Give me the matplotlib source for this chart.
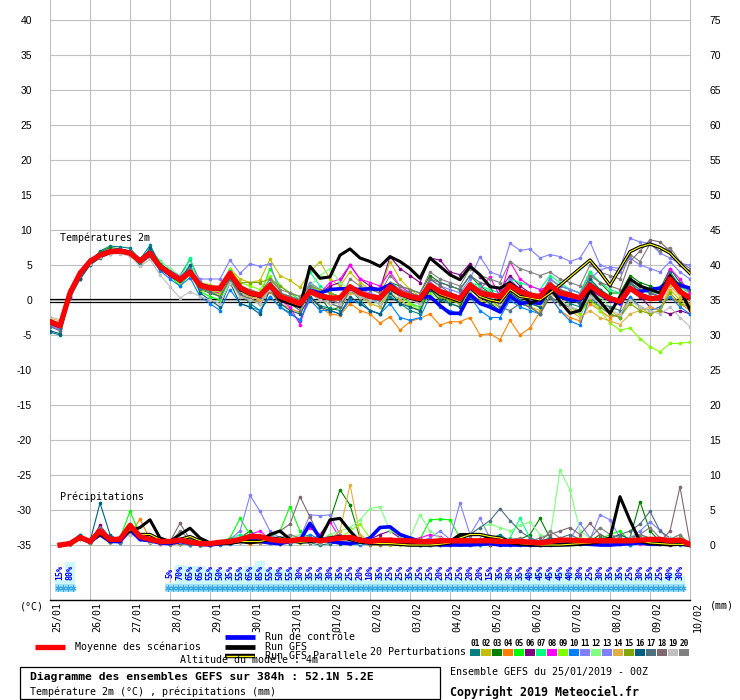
import numpy as np
import matplotlib
matplotlib.use("Agg")
import matplotlib.pyplot as plt
from matplotlib.patches import Rectangle
from matplotlib.lines import Line2D

plt.rcParams['axes.unicode_minus'] = False
MONO = 'DejaVu Sans Mono'

# ---------------- data ----------------
hours = np.arange(0, 385, 6)          # 65 steps of 6h (384h)
rain_hours = hours[1:]                # 6h precipitation totals
days = ['25/01', '26/01', '27/01', '28/01', '29/01', '30/01', '31/01', '01/02', '02/02',
        '03/02', '04/02', '05/02', '06/02', '07/02', '08/02', '09/02', '10/02']

# temperature 2m (°C)
t_mean = [-3.1, -3.7, 1.0, 3.8, 5.5, 6.4, 6.9, 7.0, 6.7, 5.6,
          6.7, 4.8, 3.8, 2.9, 4.0, 2.1, 1.7, 1.7, 3.8, 1.8,
          1.0, 0.7, 2.1, 0.5, 0.0, -0.5, 1.2, 0.6, 0.3, 0.3,
          1.9, 1.0, 0.5, 0.3, 1.9, 1.0, 0.5, 0.2, 2.1, 1.2,
          0.7, 0.2, 2.1, 1.0, 0.7, 0.5, 2.1, 1.2, 0.7, 0.5,
          2.1, 1.0, 0.7, 0.3, 2.1, 1.0, 0.2, -0.2, 1.7, 0.7,
          0.2, 0.3, 3.0, 1.2, 0.3]
t_ctrl = [-3.0, -3.6, 1.1, 3.9, 5.6, 6.5, 7.0, 7.1, 6.8, 5.7,
          6.8, 4.9, 3.9, 3.0, 4.1, 2.2, 1.8, 1.6, 3.7, 1.6,
          0.9, 0.6, 2.0, 0.4, -0.2, -0.6, 1.4, 1.0, 1.5, 1.6,
          1.6, 1.5, 1.6, 1.5, 2.2, 1.0, 0.3, 0.3, 0.5, -0.8,
          -1.9, -1.9, 0.8, -0.5, -1.0, -1.7, 0.6, -0.5, -0.3, -0.5,
          1.5, 0.5, 0.0, 0.0, 1.8, 0.8, 0.0, -0.5, 1.5, 1.2,
          1.5, 1.7, 2.9, 2.1, 1.7]
t_gfs = [-3.3, -3.8, 0.9, 3.7, 5.4, 6.3, 6.8, 6.9, 6.6, 5.5,
         6.5, 4.6, 3.6, 2.7, 3.9, 2.0, 1.6, 1.5, 3.6, 1.5,
         0.8, 0.5, 2.0, 0.0, -0.5, -1.0, 4.8, 3.1, 3.3, 6.4,
         7.3, 6.0, 5.5, 4.8, 6.2, 5.5, 4.5, 3.1, 6.0, 4.8,
         3.6, 2.9, 4.8, 3.6, 1.9, 1.7, 2.5, 1.4, -0.5, 0.2,
         1.7, -0.2, -1.9, -1.5, 1.4, -0.2, -1.9, 0.5, 3.0, 2.0,
         1.5, 1.0, 3.5, 1.5, -1.4]
t_para = [-3.2, -3.7, 1.0, 3.8, 5.5, 6.4, 6.9, 7.0, 6.7, 5.6,
          6.6, 4.7, 3.7, 2.8, 4.0, 2.1, 1.7, 1.6, 3.7, 1.6,
          0.9, 0.6, 2.1, 0.3, -0.3, -0.8, 1.3, 0.6, 0.2, 0.3,
          1.8, 1.0, 0.4, 0.3, 1.6, 0.8, 0.3, -0.1, 1.8, 0.8,
          0.3, -0.2, 1.8, 0.5, 0.0, -0.3, 1.5, 0.5, 0.3, 0.0,
          1.0, 2.1, 3.3, 4.5, 5.7, 4.0, 2.1, 4.5, 6.9, 7.6,
          8.0, 7.5, 6.7, 5.2, 3.8]

t_p01 = [-4.6, -5.0, 0.5, 3.2, 5.2, 7.0, 7.7, 7.6, 7.4, 5.8,
         7.8, 5.2, 4.2, 3.5, 5.8, 2.6, 1.8, 1.0, 3.5, 0.8,
         -0.5, -1.5, 0.5, -1.0, -1.8, -3.0, 0.5, -0.8, -1.2, -1.5,
         1.5, 0.0, -1.5, -2.0, 0.5, -0.5, -1.5, -2.0, 2.0, 0.5,
         -0.5, -1.0, 1.5, 0.5, -0.5, -1.5, 0.5, -0.5, -1.0, -2.0,
         1.5, 0.5, -0.5, -1.0, 2.5, 1.5, 0.5, 0.0, 3.0, 2.0,
         1.0, 0.5, 4.0, 2.0, 1.0]
t_p02 = [-3.2, -3.6, 1.6, 4.2, 5.8, 6.6, 7.1, 7.2, 6.8, 5.4,
         6.4, 5.0, 4.0, 3.2, 4.6, 2.5, 2.2, 1.8, 4.5, 3.0,
         2.5, 2.8, 5.8, 3.5, 2.8, 1.8, 4.0, 5.5, 3.0, 2.0,
         4.0, 2.5, 1.5, 1.0, 5.5, 3.0, 1.5, 0.5, 1.5, 0.5,
         0.0, -0.5, 1.0, 0.0, -0.5, -1.0, 1.5, 0.0, -1.0, -1.5,
         0.5, -0.5, -1.5, -2.0, 0.5, -0.5, -1.5, -2.5, 0.0, -1.0,
         -2.0, -1.5, 1.5, 0.0, -1.0]
t_p03 = [-3.5, -4.0, 1.2, 4.0, 5.6, 6.8, 7.5, 7.3, 7.0, 5.2,
         6.5, 4.5, 3.5, 2.5, 4.2, 1.5, 1.0, 0.5, 3.0, 0.5,
         0.0, -0.5, 1.5, 0.0, -0.5, -1.0, 1.0, 0.5, -1.5, -1.0,
         1.5, 0.5, 0.0, 0.0, 2.5, 2.0, 1.5, 1.0, 3.5, 2.5,
         2.0, 1.5, 3.5, 2.0, 1.0, 0.5, 2.5, 1.5, 1.0, 0.5,
         3.0, 2.0, 1.5, 1.0, 4.0, 2.5, 1.0, 1.0, 3.5, 2.5,
         2.0, 1.5, 4.5, 2.5, 1.5]
t_p04 = [-2.8, -3.3, 0.8, 3.0, 5.0, 6.2, 6.8, 6.9, 6.5, 5.0,
         6.2, 4.6, 3.6, 2.4, 3.5, 1.6, 1.2, 0.8, 3.0, 0.6,
         0.2, -0.3, 1.2, -0.5, -1.2, -1.8, 0.2, -1.0, -2.0, -2.2,
         -0.5, -1.5, -2.0, -3.3, -2.4, -4.3, -3.1, -2.6, -2.0, -3.6,
         -3.1, -3.1, -2.5, -5.0, -4.8, -5.7, -2.9, -5.0, -4.0, -1.7,
         0.5, -1.5, -2.5, -3.0, -0.5, -1.5, -2.5, -2.0, 0.5, -1.0,
         -1.5, -1.0, 0.5, -0.5, -1.5]
t_p05 = [-3.3, -3.8, 1.0, 3.6, 5.4, 6.5, 7.0, 6.9, 6.6, 5.5,
         6.8, 5.0, 3.5, 2.0, 3.8, 1.2, 0.5, 0.0, 3.0, 1.0,
         0.5, 0.5, 4.5, 2.0, 1.0, 0.0, 2.5, 1.0, 0.5, 0.0,
         2.0, 1.0, 0.0, -0.5, 1.5, 0.5, -0.5, -1.0, 2.0, 1.0,
         0.5, 0.0, 2.5, 1.5, 1.0, 0.5, 2.0, 1.0, 0.5, 0.0,
         2.5, 1.5, 1.0, 0.5, 3.0, 1.5, 0.5, 0.0, 2.5, 1.5,
         1.0, 1.0, 3.5, 2.0, 1.0]
t_p06 = [-3.0, -3.4, 1.4, 4.0, 5.6, 6.5, 7.0, 7.1, 6.8, 5.6,
         6.6, 4.6, 3.6, 2.8, 4.0, 2.0, 1.5, 1.0, 3.8, 1.5,
         0.8, 0.5, 2.0, 0.5, 0.0, -0.5, 1.5, 1.0, 2.0, 2.5,
         5.0, 3.0, 2.0, 1.5, 6.2, 4.5, 3.5, 2.5, 6.0, 5.7,
         4.0, 3.6, 5.2, 3.3, 2.0, 1.5, 3.5, 2.0, 1.0, 0.5,
         2.5, 1.0, 0.0, -0.5, 2.0, 0.5, 0.0, -0.5, 2.0, 0.5,
         -1.0, -1.5, -2.0, -1.5, -2.0]
t_p07 = [-3.4, -4.0, 0.8, 3.4, 5.2, 6.4, 7.0, 7.2, 6.9, 5.8,
         7.2, 5.6, 4.4, 3.0, 6.0, 2.0, 1.5, 1.0, 4.5, 1.5,
         1.0, 0.5, 2.5, 1.0, 0.5, 0.0, 4.0, 2.0, 1.0, 0.5,
         2.0, 1.0, 0.0, -0.5, 1.0, 0.0, -1.0, -1.5, 1.5, 0.5,
         0.0, -0.5, 2.5, 2.0, 1.5, 1.0, 3.0, 2.5, 2.0, 1.5,
         3.5, 2.5, 1.5, 1.0, 4.0, 2.5, 1.5, 1.0, 3.0, 2.0,
         1.5, 1.0, 3.5, 2.0, 1.0]
t_p08 = [-3.6, -4.2, 1.2, 3.8, 5.6, 6.5, 7.0, 7.0, 6.7, 5.7,
         6.6, 4.4, 3.4, 2.6, 4.2, 1.8, 1.2, 1.0, 3.5, 1.0,
         0.5, 0.0, 2.0, 0.0, -1.0, -3.5, 1.0, 1.0, 2.5, 3.0,
         5.0, 3.0, 2.5, 2.0, 4.0, 2.0, 1.0, 0.5, 2.5, 1.5,
         1.0, 0.5, 2.0, 1.5, 3.3, 0.5, 5.5, 3.0, 2.0, 1.5,
         2.0, 1.0, 0.5, 0.0, 1.5, 0.5, 0.0, -0.5, 3.0, 2.0,
         1.0, 0.5, 4.5, 3.0, 1.0]
t_p09 = [-3.2, -3.8, 1.0, 3.6, 5.4, 6.3, 6.8, 6.9, 6.6, 5.5,
         6.5, 4.8, 3.8, 2.2, 4.5, 1.5, 1.2, 0.8, 4.5, 2.5,
         2.0, 1.5, 3.5, 1.0, 0.5, 0.0, 2.0, 0.5, 0.0, -0.5,
         1.5, 0.5, -0.5, -1.0, 1.5, 0.5, -0.5, -1.5, 1.0, 0.0,
         -0.5, -1.0, 1.5, 0.5, 0.0, -0.5, 2.0, 1.0, 0.5, -0.5,
         1.0, 0.0, -1.0, -2.0, 0.0, -1.5, -3.3, -4.3, -4.0, -5.5,
         -6.7, -7.4, -6.2, -6.2, -6.0]
t_p10 = [-3.4, -4.0, 0.6, 3.0, 5.0, 6.2, 6.8, 6.8, 6.5, 5.2,
         6.2, 4.2, 3.0, 2.0, 3.2, 0.5, -0.5, -1.5, 1.5, -0.5,
         -1.0, -1.5, 0.5, -1.0, -2.0, -2.8, 0.0, -1.5, -1.5, -2.0,
         0.0, -0.5, -1.5, -2.0, -0.5, -2.5, -2.9, -2.5, 0.5, -1.0,
         -1.5, -2.0, 0.5, -1.5, -2.5, -2.5, 0.0, -1.0, -1.5, -2.0,
         0.5, -1.5, -3.0, -3.6, 0.5, -1.0, -2.0, -2.5, 0.5, -1.0,
         -1.5, -1.0, 0.5, -1.0, -2.0]
t_p11 = [-3.0, -3.5, 1.2, 3.8, 5.6, 6.6, 7.0, 7.0, 6.8, 5.8,
         6.8, 5.2, 4.0, 3.2, 4.8, 3.0, 3.0, 3.0, 5.7, 3.8,
         5.2, 4.8, 5.2, 1.0, 0.5, 0.0, 2.5, 1.5, 1.0, 0.5,
         2.0, 1.5, 1.0, 0.5, 2.5, 1.5, 1.0, 0.5, 3.0, 2.0,
         1.5, 1.0, 3.0, 6.2, 4.0, 3.5, 8.1, 7.1, 7.3, 6.0,
         6.5, 6.2, 5.5, 6.0, 8.3, 5.0, 4.5, 4.0, 6.0, 5.0,
         4.5, 4.0, 5.5, 4.0, 3.0]
t_p12 = [-3.3, -3.9, 1.1, 3.7, 5.4, 6.3, 6.9, 7.0, 6.6, 5.8,
         6.9, 5.4, 4.5, 3.5, 5.0, 2.5, 2.0, 1.5, 4.0, 1.0,
         0.5, 0.0, 3.0, 1.0, 0.0, -1.0, 2.0, 3.5, 4.5, 2.5,
         1.5, 0.5, 0.0, -0.5, 2.0, 1.0, 0.0, -0.5, 2.5, 1.5,
         1.0, 0.5, 2.5, 1.5, 1.0, 0.5, 2.0, 1.0, 0.5, 0.0,
         2.5, 1.5, 0.5, 0.0, 2.0, 0.5, -1.0, -1.5, 2.0, 1.0,
         0.5, 0.5, 2.5, 1.0, 0.5]
t_p13 = [-3.6, -4.2, 0.9, 3.5, 5.3, 6.3, 6.9, 7.0, 6.6, 5.4,
         6.4, 4.8, 4.2, 3.4, 4.6, 2.2, 1.8, 1.5, 3.6, 1.5,
         1.0, 0.5, 2.5, 0.5, 0.0, -0.5, 1.5, 0.5, 0.0, -0.5,
         1.5, 0.5, 0.0, 0.0, 2.0, 1.0, 0.5, 0.0, 2.5, 1.5,
         1.0, 0.5, 2.5, 1.5, 1.0, 0.5, 3.0, 1.5, 1.0, 0.5,
         3.0, 2.0, 1.5, 1.0, 3.0, 4.3, 4.7, 4.5, 8.8, 8.3,
         8.1, 6.7, 6.0, 5.2, 5.0]
t_p14 = [-2.6, -3.0, 1.3, 4.0, 5.6, 6.4, 6.9, 7.0, 6.7, 5.5,
         6.5, 4.7, 3.7, 2.6, 3.6, 1.8, 1.3, 1.2, 3.2, 1.2,
         0.5, 0.0, 1.5, 0.5, -0.5, -1.0, 1.0, 0.0, -0.5, -1.0,
         1.0, 0.5, -0.5, -1.0, 1.0, 0.0, -1.0, -1.5, 1.5, 0.5,
         0.0, -0.5, 1.5, 0.5, 0.0, -0.5, 1.5, 0.0, -1.0, -2.0,
         0.5, -0.5, -1.5, -2.5, -1.5, -2.5, -3.0, -3.5, -2.0, -1.5,
         -1.0, -1.5, 2.0, 0.5, -0.5]
t_p15 = [-3.3, -3.6, 1.0, 3.9, 5.5, 6.4, 6.9, 6.9, 6.6, 5.6,
         6.6, 4.8, 3.8, 3.0, 4.2, 2.2, 1.8, 1.5, 3.6, 2.5,
         2.5, 2.5, 3.0, 2.0, 1.0, 0.5, 2.0, 1.5, 1.0, 0.5,
         1.5, 1.0, 0.5, 0.0, 1.5, 0.5, 0.0, -0.5, 1.5, 0.5,
         0.0, -0.5, 1.5, 0.5, 0.0, -1.0, 1.0, 0.0, -0.5, -1.0,
         1.0, 0.0, -1.0, -1.5, 0.0, -1.0, -2.0, -2.5, -0.5, -1.5,
         -2.0, -1.5, 1.0, -0.5, -1.0]
t_p16 = [-4.4, -4.8, 0.3, 3.0, 5.0, 6.0, 6.6, 6.8, 6.5, 5.0,
         7.5, 5.2, 4.0, 2.8, 5.0, 1.0, 0.0, -1.0, 2.5, -0.5,
         -1.0, -2.0, 1.5, -0.5, -1.5, -2.0, 0.5, -1.0, -1.5, -2.0,
         0.5, -0.5, -1.5, -2.0, 1.0, -0.5, -1.0, -1.5, 1.5, 0.0,
         -0.5, -1.0, 2.0, 0.5, -0.5, -1.5, 1.0, 0.0, -0.5, -1.0,
         2.0, 1.0, 0.0, -0.5, 3.0, 1.5, 0.5, 0.0, 2.5, 1.0,
         0.5, 0.0, 3.0, 1.5, 0.5]
t_p17 = [-3.8, -4.4, 0.7, 3.4, 5.3, 6.3, 6.9, 7.0, 6.7, 5.6,
         6.6, 4.9, 3.8, 2.7, 4.0, 1.6, 1.2, 0.5, 3.0, 0.8,
         0.2, -0.5, 1.5, 0.0, -0.5, -1.5, 1.0, 0.0, -0.5, -1.0,
         1.5, 0.5, 0.0, -0.5, 1.5, 0.5, 0.0, -0.5, 3.0, 2.5,
         2.0, 1.5, 3.5, 2.5, 2.0, -1.0, -1.5, -0.5, -1.0, -2.0,
         0.5, -0.5, -1.0, -1.5, 1.0, -0.5, -1.0, -1.5, 2.5, 1.5,
         1.0, 0.5, 3.0, 1.5, 0.5]
t_p18 = [-3.1, -3.6, 1.2, 4.0, 5.7, 6.6, 7.1, 7.2, 6.9, 5.6,
         6.7, 4.9, 3.9, 3.0, 4.3, 2.3, 1.9, 1.6, 4.0, 1.5,
         1.0, 0.5, 2.5, 1.0, 0.5, 0.0, 1.5, 0.5, 0.0, -0.5,
         2.0, 1.0, 0.5, 0.0, 2.5, 1.5, 1.0, 0.5, 3.0, 2.0,
         1.0, 0.5, 2.5, 1.5, 1.0, 0.5, 2.5, 1.5, 1.0, 0.5,
         2.5, 1.5, 1.0, 0.5, 3.5, 2.5, 2.0, 1.5, 5.5, 7.0,
         8.6, 8.3, 7.0, 5.0, 4.0]
t_p19 = [-2.4, -2.8, 1.5, 3.8, 5.2, 6.2, 6.6, 6.6, 6.3, 4.8,
         5.8, 3.6, 1.9, 0.3, 1.2, 0.5, 0.0, -0.5, 2.5, 0.5,
         0.0, -0.5, 1.5, 0.0, -0.5, -1.0, 1.0, 0.0, -0.5, -0.5,
         1.5, 0.5, 0.0, -0.5, 1.5, 0.5, 0.0, -0.5, 2.0, 1.0,
         0.5, 0.0, 1.5, 0.5, 0.0, -0.5, 1.5, 0.5, 0.0, -0.5,
         1.0, 0.0, -1.0, -1.5, 0.5, -0.5, -1.5, -2.0, 0.0, -1.0,
         -1.5, -2.0, -1.0, -2.5, -3.8]
t_p20 = [-3.0, -3.4, 1.3, 4.1, 5.8, 6.7, 7.2, 7.3, 7.0, 5.8,
         6.9, 5.0, 4.0, 3.2, 4.4, 2.4, 2.0, 1.8, 4.2, 2.0,
         1.5, 1.0, 3.0, 1.5, 1.0, 0.5, 2.0, 1.0, 0.5, 0.0,
         3.0, 2.0, 1.5, 1.0, 3.5, 2.0, 1.5, 1.0, 4.0, 3.0,
         2.5, 2.0, 4.5, 3.5, 3.0, 2.5, 5.5, 4.5, 4.0, 3.5,
         4.0, 3.0, 2.5, 2.0, 5.0, 4.0, 3.5, 3.0, 6.5, 5.5,
         8.0, 7.0, 7.5, 5.5, 4.5]

# precipitation 6h (mm), from +6h to +384h
r_mean = [0.0, 0.2, 1.1, 0.5, 2.0, 0.8, 0.8, 2.8, 1.2, 0.8,
          0.5, 0.5, 0.7, 0.4, 0.2, 0.2, 0.4, 0.5, 0.8, 1.2,
          1.2, 0.8, 0.6, 0.6, 0.8, 0.8, 0.6, 0.8, 1.0, 1.1,
          0.7, 0.5, 0.7, 0.7, 0.6, 0.6, 0.5, 0.5, 0.6, 0.6,
          0.6, 0.6, 0.6, 0.6, 0.5, 0.5, 0.5, 0.4, 0.3, 0.5,
          0.7, 0.7, 0.6, 0.6, 0.6, 0.6, 0.6, 0.6, 0.7, 0.8,
          0.8, 0.6, 0.7, 0.1]
r_ctrl = [0.0, 0.3, 1.0, 0.4, 1.5, 0.5, 0.5, 2.2, 0.8, 0.6,
          0.3, 0.2, 0.5, 0.3, 0.1, 0.0, 0.2, 0.3, 0.6, 0.8,
          0.5, 0.3, 0.2, 0.5, 0.6, 3.1, 1.0, 0.5, 0.3, 0.2,
          0.5, 1.0, 2.5, 2.6, 1.5, 1.0, 0.5, 0.2, 0.0, 0.0,
          0.0, 0.0, 0.1, 0.2, 0.0, 0.0, 0.0, 0.0, 0.0, 0.0,
          0.1, 0.2, 0.2, 0.1, 0.0, 0.0, 0.1, 0.2, 0.3, 0.1,
          0.1, 0.2, 0.2, 0.0]
r_gfs = [0.0, 0.2, 1.2, 0.5, 1.5, 0.8, 1.0, 2.0, 2.5, 3.6,
         1.0, 0.5, 1.5, 2.4, 1.0, 0.3, 0.2, 0.2, 0.5, 0.3,
         0.5, 1.5, 2.0, 0.8, 0.5, 0.5, 0.8, 3.6, 3.8, 2.0,
         0.5, 0.3, 0.2, 0.2, 0.1, 0.0, 0.0, 0.0, 0.1, 0.5,
         1.5, 1.5, 1.5, 1.0, 0.5, 0.3, 0.1, 0.0, 0.0, 0.0,
         0.0, 0.0, 0.1, 0.2, 0.5, 1.0, 6.9, 3.5, 0.5, 0.2,
         0.1, 0.0, 0.1, 0.0]
r_para = [0.0, 0.2, 1.0, 0.5, 1.8, 0.6, 0.8, 2.2, 1.5, 1.5,
          0.8, 0.4, 0.8, 1.2, 0.6, 0.2, 0.2, 0.3, 0.5, 0.5,
          0.5, 0.8, 1.0, 0.6, 0.4, 0.5, 0.6, 1.0, 1.2, 0.8,
          0.4, 0.3, 0.2, 0.2, 0.1, 0.0, 0.0, 0.0, 0.1, 0.3,
          1.0, 1.5, 1.5, 1.2, 1.0, 0.5, 0.2, 0.1, 0.0, 0.0,
          0.0, 0.1, 0.2, 0.3, 0.5, 0.6, 0.5, 0.8, 0.6, 0.3,
          0.2, 0.1, 0.1, 0.0]

r_p01 = [0.0, 0.3, 1.2, 0.5, 2.5, 0.5, 0.3, 2.0, 0.8, 0.5,
         0.3, 0.5, 0.2, 0.0, 0.0, 0.0, 0.2, 0.5, 1.0, 0.5,
         0.8, 0.5, 0.3, 0.2, 0.5, 0.3, 0.0, 0.2, 0.5, 0.3,
         0.2, 0.0, 0.0, 0.5, 0.3, 0.2, 0.0, 0.0, 0.3, 0.5,
         0.3, 0.2, 0.5, 0.8, 1.5, 0.5, 0.2, 0.0, 0.0, 0.3,
         0.5, 0.3, 0.2, 0.5, 1.0, 0.8, 0.2, 0.0, 0.3, 0.5,
         0.3, 0.2, 0.5, 0.0]
r_p02 = [0.0, 0.2, 0.8, 0.3, 1.5, 0.8, 0.5, 2.5, 1.0, 0.5,
         0.2, 0.3, 0.5, 0.2, 0.0, 0.2, 0.5, 0.3, 0.5, 1.0,
         0.5, 0.3, 0.8, 0.5, 0.3, 0.5, 1.0, 0.5, 0.3, 0.5,
         0.3, 0.5, 0.2, 0.0, 0.0, 0.2, 0.3, 0.5, 0.2, 0.0,
         0.0, 0.0, 0.2, 0.3, 0.5, 0.2, 0.0, 0.0, 0.0, 0.2,
         0.3, 0.5, 0.8, 0.5, 0.3, 0.5, 1.0, 0.8, 0.5, 0.3,
         0.2, 0.3, 0.2, 0.0]
r_p03 = [0.0, 0.2, 1.0, 0.3, 2.0, 0.5, 0.5, 3.0, 1.0, 0.5,
         0.3, 0.2, 0.5, 0.3, 0.2, 0.0, 0.3, 0.5, 1.0, 2.0,
         1.0, 0.5, 0.5, 1.0, 0.8, 0.5, 1.5, 3.6, 7.9, 5.7,
         1.0, 0.5, 0.3, 0.2, 0.3, 0.5, 0.3, 0.2, 0.0, 0.2,
         0.3, 0.2, 0.0, 0.0, 0.2, 0.5, 0.8, 1.5, 3.8, 1.0,
         0.5, 0.8, 1.0, 0.5, 1.5, 0.8, 0.5, 1.0, 6.2, 2.0,
         0.5, 0.3, 0.2, 0.0]
r_p04 = [0.0, 0.2, 0.8, 0.3, 1.8, 0.5, 1.0, 1.5, 3.7, 0.8,
         0.2, 0.0, 0.2, 0.0, 0.0, 0.0, 0.2, 0.3, 0.5, 0.2,
         0.3, 0.5, 0.2, 0.3, 0.5, 0.8, 0.5, 0.3, 0.5, 0.3,
         0.2, 0.0, 0.0, 0.2, 0.5, 0.3, 0.2, 0.0, 0.0, 0.2,
         0.3, 0.2, 0.5, 0.8, 0.5, 0.3, 0.2, 0.0, 0.0, 0.2,
         0.5, 0.8, 0.3, 0.5, 0.2, 0.0, 0.2, 0.5, 0.8, 0.3,
         0.2, 0.3, 0.2, 0.0]
r_p05 = [0.0, 0.3, 1.5, 0.5, 2.0, 0.8, 1.0, 4.8, 1.5, 0.8,
         0.5, 0.3, 0.5, 0.2, 0.0, 0.2, 0.5, 1.0, 3.8, 1.5,
         1.0, 1.0, 2.0, 5.5, 2.0, 1.0, 0.5, 0.8, 1.0, 0.5,
         0.3, 0.5, 0.3, 0.2, 0.3, 0.5, 0.8, 3.6, 3.7, 3.6,
         1.0, 0.5, 0.3, 0.2, 0.5, 0.3, 0.5, 0.3, 0.2, 0.5,
         0.5, 0.3, 0.5, 1.0, 0.8, 1.5, 2.0, 0.5, 0.3, 0.5,
         0.8, 0.5, 1.0, 0.0]
r_p06 = [0.0, 0.2, 1.0, 0.5, 2.8, 1.0, 0.5, 2.0, 0.8, 0.5,
         0.5, 0.3, 0.2, 0.2, 0.0, 0.0, 0.2, 0.5, 0.8, 1.0,
         0.5, 0.3, 0.5, 0.8, 1.0, 0.5, 0.3, 1.5, 0.5, 0.3,
         0.5, 0.8, 1.5, 2.0, 1.0, 0.5, 0.3, 0.2, 0.0, 0.0,
         0.2, 0.3, 0.2, 0.0, 0.0, 0.0, 0.2, 0.3, 0.2, 0.0,
         0.2, 0.3, 0.5, 0.3, 0.2, 0.5, 0.8, 1.0, 0.5, 0.3,
         0.2, 0.0, 0.2, 0.0]
r_p07 = [0.0, 0.3, 1.2, 0.3, 2.2, 0.5, 0.8, 2.5, 1.2, 0.8,
         0.3, 0.2, 0.5, 0.3, 0.2, 0.0, 0.3, 0.8, 1.5, 1.0,
         0.8, 0.5, 0.3, 0.5, 1.0, 0.5, 0.8, 0.5, 1.0, 0.5,
         0.3, 0.2, 0.5, 0.3, 0.5, 1.0, 0.5, 0.3, 0.5, 0.3,
         0.2, 0.5, 0.8, 0.5, 0.3, 1.0, 3.8, 1.0, 0.5, 0.3,
         0.5, 0.3, 0.8, 0.5, 0.3, 0.2, 0.5, 1.0, 1.5, 0.8,
         0.5, 0.3, 0.2, 0.0]
r_p08 = [0.0, 0.2, 1.0, 0.5, 2.5, 0.8, 0.5, 3.0, 1.0, 0.5,
         0.2, 0.3, 0.5, 0.3, 0.0, 0.2, 0.3, 0.5, 1.0, 1.5,
         2.0, 0.8, 0.5, 0.5, 1.0, 2.5, 1.5, 3.3, 1.0, 0.5,
         0.5, 0.3, 0.5, 0.8, 1.0, 0.8, 1.0, 1.5, 1.2, 0.5,
         0.3, 0.5, 0.8, 1.0, 0.5, 0.3, 0.2, 0.0, 0.2, 0.3,
         0.5, 0.3, 0.2, 0.3, 0.5, 0.8, 0.5, 0.3, 0.2, 0.5,
         0.3, 0.2, 0.2, 0.0]
r_p09 = [0.0, 0.2, 0.8, 0.3, 1.8, 0.5, 0.5, 2.2, 0.8, 0.5,
         0.3, 0.2, 0.3, 0.2, 0.0, 0.0, 0.2, 0.5, 1.0, 0.8,
         0.5, 0.5, 0.8, 1.0, 0.5, 0.5, 0.3, 0.5, 1.0, 2.0,
         3.0, 1.0, 0.5, 0.8, 1.0, 0.5, 0.3, 0.2, 0.3, 0.5,
         0.8, 0.5, 0.3, 0.2, 0.3, 0.5, 0.3, 0.2, 0.5, 0.3,
         0.5, 0.8, 1.0, 0.5, 0.3, 0.5, 0.8, 0.5, 0.3, 0.5,
         0.8, 1.0, 0.5, 0.0]
r_p10 = [0.0, 0.3, 1.3, 0.5, 2.0, 0.5, 0.3, 2.5, 1.5, 0.8,
         0.5, 0.3, 0.2, 0.0, 0.0, 0.0, 0.0, 0.2, 0.5, 0.8,
         0.5, 0.3, 0.2, 0.5, 0.8, 1.5, 0.8, 0.5, 0.3, 0.2,
         0.0, 0.2, 0.5, 0.8, 0.5, 0.3, 0.0, 0.0, 0.2, 0.3,
         0.2, 0.0, 0.0, 0.2, 0.3, 0.2, 0.0, 0.0, 0.0, 0.2,
         0.3, 0.5, 0.2, 0.3, 0.5, 0.3, 0.2, 0.0, 0.3, 0.5,
         0.3, 0.2, 0.0, 0.0]
r_p11 = [0.0, 0.2, 1.0, 0.3, 2.2, 0.5, 0.5, 2.0, 1.0, 0.5,
         0.3, 0.2, 0.5, 0.3, 0.0, 0.2, 0.5, 0.8, 2.0, 7.1,
         4.8, 2.0, 1.0, 0.5, 0.8, 0.5, 0.3, 0.5, 0.5, 0.8,
         0.5, 0.3, 0.5, 0.8, 0.5, 0.3, 0.5, 1.0, 2.0, 0.8,
         6.0, 1.5, 3.8, 1.0, 0.5, 0.3, 0.5, 0.8, 0.5, 0.3,
         0.5, 0.8, 3.1, 1.0, 0.5, 0.3, 0.5, 1.0, 2.0, 3.3,
         2.1, 0.5, 0.3, 0.0]
r_p12 = [0.0, 0.3, 1.5, 0.5, 2.5, 0.8, 1.0, 3.0, 1.2, 0.5,
         0.3, 0.2, 0.5, 0.3, 0.2, 0.2, 0.3, 0.5, 1.0, 1.5,
         1.0, 0.8, 0.5, 1.0, 1.5, 1.0, 0.8, 1.5, 2.0, 2.5,
         3.6, 5.2, 5.5, 2.0, 1.5, 1.0, 4.3, 2.0, 1.0, 0.5,
         0.8, 1.5, 2.5, 3.0, 2.5, 2.0, 2.8, 3.3, 1.5, 1.0,
         10.7, 7.9, 2.0, 1.0, 0.8, 0.5, 0.8, 1.0, 0.5, 0.8,
         1.0, 0.8, 1.5, 0.0]
r_p13 = [0.0, 0.2, 1.0, 0.5, 2.0, 0.8, 0.5, 2.2, 0.8, 0.5,
         0.3, 0.2, 0.3, 0.2, 0.0, 0.0, 0.2, 0.3, 0.5, 0.8,
         1.0, 1.5, 0.8, 0.5, 1.0, 4.3, 4.2, 4.3, 1.5, 0.8,
         0.5, 0.3, 0.5, 0.8, 0.5, 0.3, 0.2, 0.5, 0.8, 0.5,
         0.3, 0.5, 0.8, 0.5, 0.3, 0.5, 0.8, 0.5, 0.3, 0.5,
         0.8, 0.5, 0.5, 0.8, 4.3, 3.6, 1.0, 0.5, 0.8, 0.5,
         0.3, 0.5, 0.3, 0.0]
r_p14 = [0.0, 0.2, 1.0, 0.3, 1.8, 0.5, 0.5, 2.5, 1.0, 0.8,
         0.5, 0.3, 0.2, 0.2, 0.0, 0.2, 0.3, 0.5, 0.8, 1.0,
         0.5, 0.3, 0.5, 0.8, 1.0, 0.5, 0.3, 0.8, 2.0, 8.6,
         1.5, 0.5, 0.3, 0.2, 0.3, 0.5, 0.3, 0.2, 0.0, 0.2,
         0.3, 0.5, 0.3, 0.2, 0.3, 0.5, 0.3, 0.2, 0.0, 0.2,
         0.5, 0.8, 0.5, 0.3, 0.8, 1.0, 0.5, 0.3, 0.5, 0.8,
         0.5, 0.3, 0.5, 0.0]
r_p15 = [0.0, 0.3, 1.0, 0.5, 2.0, 0.5, 0.8, 2.8, 1.0, 0.5,
         0.3, 0.2, 0.5, 0.3, 0.0, 0.0, 0.3, 0.5, 0.8, 1.0,
         0.8, 0.5, 0.5, 0.8, 0.5, 0.5, 1.0, 0.8, 0.5, 0.3,
         0.5, 0.8, 1.0, 0.5, 0.3, 0.5, 0.8, 0.5, 0.3, 0.5,
         0.5, 0.3, 0.5, 0.8, 0.5, 0.3, 0.5, 0.5, 0.3, 0.5,
         0.5, 0.3, 0.5, 0.8, 1.0, 0.8, 1.5, 0.8, 0.5, 1.0,
         0.8, 0.5, 0.3, 0.0]
r_p16 = [0.0, 0.3, 1.5, 0.5, 6.0, 1.5, 0.5, 2.5, 1.0, 0.5,
         0.3, 0.2, 0.3, 0.2, 0.0, 0.0, 0.2, 0.3, 0.5, 0.8,
         0.5, 0.3, 0.2, 0.3, 0.5, 0.8, 0.5, 0.3, 0.2, 0.3,
         0.5, 0.3, 0.2, 0.5, 0.3, 0.2, 0.0, 0.2, 0.5, 0.3,
         0.2, 0.3, 0.5, 0.3, 0.2, 0.5, 0.3, 0.2, 0.5, 1.0,
         0.8, 0.5, 0.3, 0.5, 0.8, 1.0, 1.5, 0.8, 0.5, 0.5,
         0.3, 0.2, 0.3, 0.0]
r_p17 = [0.0, 0.2, 1.0, 0.5, 2.5, 1.0, 0.5, 2.0, 0.8, 0.5,
         0.3, 0.2, 0.5, 0.3, 0.2, 0.0, 0.2, 0.5, 0.8, 1.0,
         0.5, 0.3, 0.5, 0.8, 0.5, 0.3, 0.5, 0.8, 0.5, 0.3,
         0.5, 0.3, 0.2, 0.5, 0.8, 1.0, 0.5, 0.3, 0.2, 0.5,
         0.8, 1.5, 2.5, 3.5, 5.2, 3.5, 2.0, 1.0, 0.5, 0.8,
         1.0, 1.5, 0.8, 0.5, 1.0, 0.8, 1.5, 2.0, 3.0, 4.8,
         2.0, 1.0, 0.5, 0.0]
r_p18 = [0.0, 0.2, 0.8, 0.3, 1.5, 0.5, 0.5, 2.0, 0.8, 0.5,
         0.5, 0.5, 3.1, 0.8, 0.3, 0.2, 0.3, 0.5, 0.8, 1.0,
         1.0, 1.5, 2.0, 3.0, 6.9, 4.0, 1.0, 0.8, 0.5, 0.3,
         0.5, 0.3, 0.5, 0.3, 0.2, 0.5, 0.3, 0.2, 0.5, 0.3,
         0.2, 0.5, 0.8, 0.5, 0.3, 0.5, 0.8, 0.5, 1.0, 1.5,
         2.0, 2.5, 1.5, 3.1, 1.5, 0.8, 0.5, 1.0, 1.5, 1.0,
         0.5, 2.0, 8.3, 0.3]
r_p19 = [0.0, 0.3, 1.0, 0.5, 2.0, 0.8, 0.8, 1.5, 1.0, 0.5,
         0.5, 0.3, 0.5, 0.3, 0.2, 0.2, 0.3, 0.5, 0.5, 0.8,
         0.5, 0.3, 0.5, 0.5, 0.8, 0.5, 0.3, 0.5, 0.8, 0.5,
         0.3, 0.5, 0.3, 0.2, 0.3, 0.5, 0.3, 0.2, 0.3, 0.5,
         0.3, 0.2, 0.3, 0.5, 0.3, 0.2, 0.3, 0.5, 0.3, 0.2,
         0.3, 0.5, 0.8, 0.5, 0.3, 0.5, 0.8, 1.0, 0.8, 0.5,
         0.8, 1.0, 0.8, 0.0]
r_p20 = [0.0, 0.2, 1.2, 0.5, 2.5, 0.8, 0.5, 3.0, 1.0, 0.8,
         0.5, 0.3, 2.0, 0.8, 0.3, 0.2, 0.3, 0.8, 1.0, 1.5,
         1.0, 0.8, 1.0, 1.5, 1.0, 0.8, 0.5, 1.0, 1.5, 1.0,
         0.8, 0.5, 0.3, 0.5, 0.8, 1.0, 0.8, 0.5, 0.3, 0.5,
         0.8, 1.0, 0.5, 0.3, 0.5, 0.8, 1.0, 0.5, 0.3, 2.0,
         1.0, 0.8, 0.5, 1.0, 2.5, 1.5, 1.0, 0.8, 1.5, 2.5,
         1.0, 0.8, 1.5, 0.0]

t_perts = [t_p01, t_p02, t_p03, t_p04, t_p05, t_p06, t_p07, t_p08, t_p09, t_p10,
           t_p11, t_p12, t_p13, t_p14, t_p15, t_p16, t_p17, t_p18, t_p19, t_p20]
r_perts = [r_p01, r_p02, r_p03, r_p04, r_p05, r_p06, r_p07, r_p08, r_p09, r_p10,
           r_p11, r_p12, r_p13, r_p14, r_p15, r_p16, r_p17, r_p18, r_p19, r_p20]
pert_colors = ['#008080', '#c0c000', '#008000', '#ff8000', '#00ff00', '#800080', '#00ff80',
               '#ff00ff', '#80ff00', '#0080ff', '#8080ff', '#80ff80', '#8080ff', '#e0b040',
               '#80a800', '#006080', '#507080', '#806870', '#c0c0c0', '#808080']

# snow probability (%) per 6h step
snow_steps = [1, 2] + list(range(12, 64))
snow_pct = [15, 80,
            5, 70, 65, 65, 55, 50, 35, 55, 65, 85, 55, 50, 55, 30, 35, 35, 30, 35, 25, 20,
            10, 35, 25, 25, 35, 25, 25, 20, 25, 25, 20, 20, 15, 35, 30, 35, 40, 45, 45, 45,
            40, 30, 25, 30, 35, 35, 25, 30, 35, 25, 40, 30]

for s in t_perts + [t_mean, t_ctrl, t_gfs, t_para]:
    assert len(s) == len(hours)
for s in r_perts + [r_mean, r_ctrl, r_gfs, r_para]:
    assert len(s) == len(rain_hours)
assert len(snow_steps) == len(snow_pct)

RAIN0 = -35  # precipitation zero on the temperature scale

# ---------------- figure ----------------
W, H = 740, 700
fig = plt.figure(figsize=(W / 100, H / 100), dpi=100)
ax = fig.add_axes([50 / W, 100 / H, 640 / W, 600 / H])
ax.set_xlim(0, 384)
ax.set_ylim(-300 / 7, 300 / 7)

grid_c = '#c0c0c0'
for v in range(-35, 45, 5):
    ax.axhline(v, color=grid_c, lw=0.8, zorder=0)
for d in range(len(days)):
    ax.axvline(d * 24, color=grid_c, lw=0.8, zorder=0, clip_on=False)

for sp in ['top', 'left', 'right']:
    ax.spines[sp].set_visible(False)
ax.spines['bottom'].set_color('black')
ax.spines['bottom'].set_linewidth(1.0)

ax.set_xticks([])
ax.set_yticks(range(-35, 45, 5))
ax.set_yticklabels([str(v) for v in range(-35, 45, 5)], family='Liberation Sans', fontsize=7.5)
ax.tick_params(axis='y', length=0, pad=13)

ax2 = ax.twinx()
ax2.set_ylim(-300 / 7 + 35, 300 / 7 + 35)
ax2.set_yticks(range(0, 80, 5))
ax2.set_yticklabels([str(v) for v in range(0, 80, 5)], family='Liberation Sans', fontsize=7.5)
ax2.tick_params(axis='y', length=0, pad=14)
for sp in ax2.spines.values():
    sp.set_visible(False)

# zero line (double)
ax.axhline(0.12, color='black', lw=0.9, zorder=1)
ax.axhline(-0.22, color='black', lw=0.9, zorder=1)

# perturbations
for t, r, c in zip(t_perts, r_perts, pert_colors):
    ax.plot(hours, t, color=c, lw=0.8, marker='o', ms=1.6, mec=c, zorder=2)
    ax.plot(rain_hours, RAIN0 + np.array(r), color=c, lw=0.8, marker='o', ms=1.6, mec=c, zorder=2)

# control, GFS, GFS parallel, mean
ax.plot(hours, t_ctrl, color='#0000ff', lw=2.6, zorder=3)
ax.plot(rain_hours, RAIN0 + np.array(r_ctrl), color='#0000ff', lw=2.6, zorder=3)
ax.plot(hours, t_gfs, color='black', lw=2.2, zorder=4)
ax.plot(rain_hours, RAIN0 + np.array(r_gfs), color='black', lw=2.2, zorder=4)
ax.plot(hours, t_para, color='black', lw=2.4, zorder=4)
ax.plot(hours, t_para, color='#ffff00', lw=0.8, zorder=4)
ax.plot(rain_hours, RAIN0 + np.array(r_para), color='black', lw=2.4, zorder=4)
ax.plot(rain_hours, RAIN0 + np.array(r_para), color='#ffff00', lw=0.8, zorder=4)
ax.plot(hours, t_mean, color='#ff0000', lw=3.8, zorder=5)
ax.plot(rain_hours, RAIN0 + np.array(r_mean), color='#ff0000', lw=3.8, zorder=5)

# snow strip
bar_base = (300 - 584) / 7
for i, p in zip(snow_steps, snow_pct):
    x = hours[i]
    ax.add_patch(Rectangle((x - 3, bar_base), 6, p * 0.275 / 7, color='#ccf8ff', lw=0, zorder=1))
    ax.add_patch(Rectangle((x - 3, (300 - 592) / 7), 6, 8 / 7, color='#9ee0fa', lw=0, zorder=1))
    ax.text(x, (300 - 573) / 7, f"{p}%", rotation=90, ha='center', va='center',
            fontsize=6, color='#0000ff', family=MONO, fontweight='bold', zorder=3)
    ax.scatter([x - 1.5, x + 1.5], [(300 - 588) / 7] * 2, marker=(6, 2, 0), s=14,
               color='#3aa8e0', lw=0.8, zorder=2)

ax.text(6, (300 - 237.5) / 7, 'Températures 2m', fontsize=7.2, family=MONO, va='center')
ax.text(6, (300 - 496.5) / 7, 'Précipitations', fontsize=7.2, family=MONO, va='center')

# date labels
for d, lab in enumerate(days):
    ax.text(d * 24 + 4.5, (300 - 602) / 7, lab, rotation=90, ha='center', va='top',
            fontsize=7.2, family=MONO, clip_on=False)


def fx(x):
    return x / W


def fy(y):
    return 1 - y / H


def ftext(x, y, s, **kw):
    kw.setdefault('family', MONO)
    kw.setdefault('fontsize', 7.2)
    kw.setdefault('va', 'center')
    fig.text(fx(x), fy(y), s, **kw)


def fline(x1, x2, y, color, lw):
    fig.add_artist(Line2D([fx(x1), fx(x2)], [fy(y), fy(y)], color=color, lw=lw,
                          transform=fig.transFigure, solid_capstyle='butt'))


ftext(20, 606.5, '(°C)')
ftext(710, 606, '(mm)')

# legend
fline(35, 65, 646.5, '#ff0000', 3.8)
ftext(75, 646.7, 'Moyenne des scénarios')
fline(225, 255, 636.5, '#0000ff', 3.4)
ftext(265, 636.7, 'Run de contrôle')
fline(225, 255, 646.5, 'black', 3.4)
ftext(265, 646.7, 'Run GFS')
fline(225, 255, 656, 'black', 3.2)
fline(226, 254, 656, '#ffff00', 1.0)
ftext(265, 656, 'Run GFS Parallele')
ftext(180, 660, 'Altitude du modèle : 4m')

ftext(370, 652, '20 Perturbations')
for k, c in enumerate(pert_colors):
    x0 = 470 + 11 * k
    fig.add_artist(Rectangle((fx(x0), fy(656)), 10 / W, 7 / H, color=c, lw=0,
                             transform=fig.transFigure))
    ftext(x0 + 5, 643, f"{k + 1:02d}", fontsize=5.6, fontweight='bold', ha='center')

fig.add_artist(Rectangle((fx(20), fy(699)), 420 / W, 32 / H, fill=False, ec='black', lw=0.9,
                         transform=fig.transFigure))
ftext(30, 677, 'Diagramme des ensembles GEFS sur 384h : 52.1N 5.2E', fontsize=8.2,
      fontweight='bold')
ftext(30, 692, 'Température 2m (°C) , précipitations (mm)')
ftext(450, 672, 'Ensemble GEFS du 25/01/2019 - 00Z')
ftext(450, 692, 'Copyright 2019 Meteociel.fr', fontsize=8.4, fontweight='bold')

fig.savefig('out.png', dpi=100, facecolor='white')
